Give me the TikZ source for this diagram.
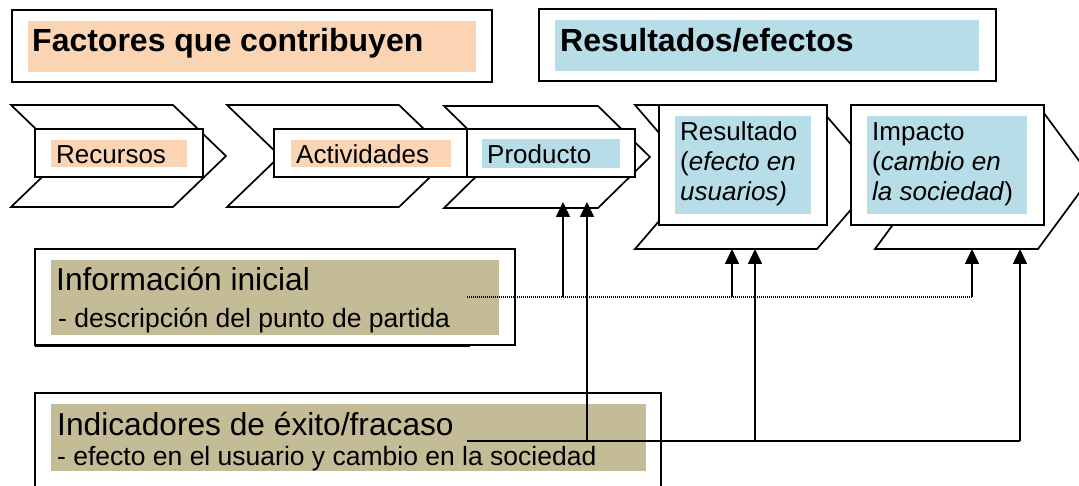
\documentclass[tikz,border=0pt]{standalone}
\usepackage{fontspec}
\setmainfont{Liberation Sans}
\usetikzlibrary{arrows.meta}
\definecolor{peach}{HTML}{FBD4B4}
\definecolor{aqua}{HTML}{B6DDE8}
\definecolor{khaki}{HTML}{C4BC96}
\tikzset{
  frame/.style={draw=black, line width=2pt, fill=white},
  boxline/.style={draw=black, line width=1.7pt, fill=white},
  chev/.style={draw=black, line width=1.7pt, fill=white, line join=miter},
  lbl/.style={anchor=base west, inner sep=0pt, font=\fontsize{26}{30}\selectfont},
  ttl/.style={anchor=base west, inner sep=0pt, font=\fontsize{32}{36}\selectfont\bfseries},
  big/.style={anchor=base west, inner sep=0pt, font=\fontsize{31.7}{36}\selectfont},
  small/.style={anchor=base west, inner sep=0pt, font=\fontsize{26.5}{30}\selectfont},
  conn/.style={line width=1.6pt, -{Triangle[length=15pt,width=14pt]}},
  link/.style={line width=1.6pt},
  dotlink/.style={line width=1.2pt, dash pattern=on 1pt off 1pt},
}
\newcommand{\chevronshape}[5]{%
  \draw[chev] (#1,#3) -- (#2,#3) -- ({#2+#5},{(#3+#4)/2}) -- (#2,#4) -- (#1,#4) -- ({#1+#5},{(#3+#4)/2}) -- cycle;}
\begin{document}
\begin{tikzpicture}[x=1pt,y=-1pt]
\useasboundingbox (0,0) rectangle (1079,486);
\clip (0,0) rectangle (1079,486);
\fill[white] (0,0) rectangle (1079,486);

% title boxes
\draw[frame] (12,10) rectangle (492,82);
\fill[peach] (28,21) rectangle (476,72);
\node[ttl] (tFac) at (32,52) {Factores que contribuyen};
\draw[frame] (539,9) rectangle (996,81);
\fill[aqua] (555,20) rectangle (979,71);
\node[ttl] (tRes) at (560,52) {Resultados/efectos};

% Recursos
\chevronshape{11}{173}{105}{207}{53}
\draw[boxline] (35,129) rectangle (203,177);
\fill[peach] (51,140) rectangle (187,167);
\node[lbl] (tRec) at (56,164) {Recursos};

% Actividades
\chevronshape{227}{399}{105}{207}{53}
\draw[boxline] (274,129) rectangle (467,177);
\fill[peach] (291,140) rectangle (451,167);
\node[lbl] (tAct) at (296,164) {Actividades};

% Producto
\chevronshape{444}{598}{106}{208}{52}
\draw[boxline] (467,129) rectangle (635,177);
\fill[aqua] (482,139) rectangle (620,168);
\node[lbl] (tPro) at (487,164) {Producto};

% Resultado
\chevronshape{635}{817}{105}{249}{62}
\draw[boxline] (659,105) rectangle (827,225);
\fill[aqua] (675,116) rectangle (811,214);
\node[lbl] (tRsA) at (680,141) {Resultado};
\node[lbl] (tRsB) at (680,171) {(\textit{efecto en}};
\node[lbl] (tRsC) at (680,201) {\textit{usuarios)}};

% Impacto
\chevronshape{875}{1038}{105}{249}{53}
\draw[boxline] (851,105) rectangle (1044,225);
\fill[aqua] (867,116) rectangle (1027,214);
\node[lbl] (tImA) at (872,141) {Impacto};
\node[lbl] (tImB) at (872,171) {(\textit{cambio en}};
\node[lbl] (tImC) at (872,201) {\textit{la sociedad})};

% Informacion inicial
\draw[frame] (35,249) rectangle (515,345);
\draw[line width=1.2pt] (35,346.6) -- (470,346.6);
\fill[khaki] (51,260) rectangle (499,335);
\node[big] (tInf) at (56,291) {Información inicial};
\node[small] (tInfB) at (58,327) {- descripción del punto de partida};

% Indicadores
\draw[frame] (35,393) rectangle (661,500);
\fill[khaki] (51,404) rectangle (646,471);
\node[big] (tInd) at (57,435) {Indicadores de éxito/fracaso};
\node[small] (tIndB) at (57,465) {- efecto en el usuario y cambio en la sociedad};

% connector points
\coordinate (dA) at (467,297);
\coordinate (dP) at (563,297);
\coordinate (dR) at (732,297);
\coordinate (dI) at (972,297);
\coordinate (sA) at (467,441);
\coordinate (sP) at (587,441);
\coordinate (sR) at (755,441);
\coordinate (sI) at (1020,441);
\coordinate (aP1) at (563,202);
\coordinate (aP2) at (587,202);
\coordinate (aR1) at (732,249);
\coordinate (aR2) at (755,249);
\coordinate (aI1) at (972,249);
\coordinate (aI2) at (1020,249);

\draw[dotlink] (dA) -- (dI);
\draw[conn] (dP) -- (aP1);
\draw[conn] (dR) -- (aR1);
\draw[conn] (dI) -- (aI1);
\draw[link] (sA) -- (sI);
\draw[conn] (sP) -- (aP2);
\draw[conn] (sR) -- (aR2);
\draw[conn] (sI) -- (aI2);
\end{tikzpicture}
\end{document}
